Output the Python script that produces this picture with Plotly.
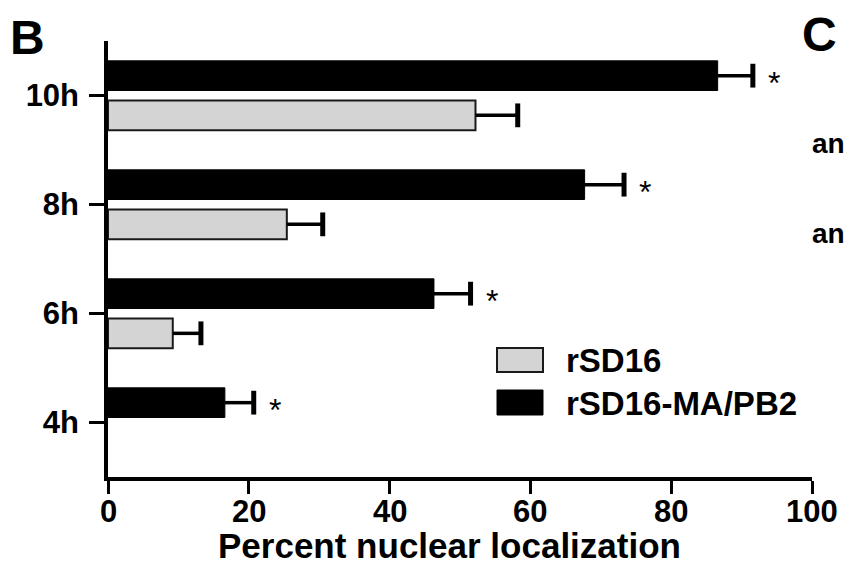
import plotly.graph_objects as go

# Nuclear localization over time for the two viruses
timepoints = ["4h", "6h", "8h", "10h"]
rsd16_mean = [None, 9.2, 25.4, 52.2]
rsd16_err = [None, 4.0, 5.1, 6.0]
mapb2_mean = [16.6, 46.3, 67.7, 86.6]
mapb2_err = [4.1, 5.2, 5.6, 5.0]
significant = ["*", "*", "*", "*"]
x_ticks = [0, 20, 40, 60, 80, 100]

W, H = 846, 565
L, R, T, B = 108, 34, 41, 88
PW, PH = W - L - R, H - T - B


def px(x):
    return (x - L) / PW


def py(y):
    return (H - B - y) / PH


FONT = "Liberation Sans, Arial, sans-serif"
BAR_W = 0.272
OFFSETS = {"rSD16": -0.318, "rSD16-MA/PB2": 0.046}
pos = list(range(len(timepoints)))

fig = go.Figure()
series = [
    ("rSD16", rsd16_mean, rsd16_err, dict(color="#d4d4d4", line=dict(color="#1a1a1a", width=2))),
    ("rSD16-MA/PB2", mapb2_mean, mapb2_err, dict(color="black", line=dict(color="black", width=1))),
]
for name, means, errs, marker in series:
    off = OFFSETS[name]
    fig.add_trace(go.Bar(
        y=pos, x=means, orientation="h", name=name,
        width=BAR_W, offset=off, marker=marker,
        error_x=dict(type="data", array=[e or 0 for e in errs], arrayminus=[0] * 4,
                     symmetric=False, color="black", thickness=3.5, width=0),
        showlegend=False,
    ))
    # heavy end caps of the error bars
    cap_x = [m + e if m is not None else None for m, e in zip(means, errs)]
    fig.add_trace(go.Scatter(
        y=[p + off + BAR_W / 2 for p in pos], x=cap_x, mode="markers",
        marker=dict(symbol="line-ns", size=17, color="black",
                    line=dict(color="black", width=5)),
        showlegend=False, hoverinfo="skip",
    ))

annotations = []
# significance markers beside the error-bar caps
for p, m, e, s in zip(pos, mapb2_mean, mapb2_err, significant):
    annotations.append(dict(
        x=m + e, y=p + OFFSETS["rSD16-MA/PB2"] + BAR_W / 2, xref="x", yref="y",
        text=s, showarrow=False, xanchor="center", yanchor="middle",
        xshift=21, yshift=-7,
        font=dict(family=FONT, size=32, color="black"),
    ))

# x tick labels, set close under the ticks
for v in x_ticks:
    annotations.append(dict(
        x=v, y=py(492), xref="x", yref="paper", text=f"<b>{v}</b>",
        showarrow=False, xanchor="center", yanchor="top",
        font=dict(family=FONT, size=31, color="black"),
    ))

# legend drawn with large swatches
shapes = [
    dict(type="rect", xref="paper", yref="paper",
         x0=px(497), x1=px(543), y0=py(372), y1=py(348),
         fillcolor="#d4d4d4", line=dict(color="#1a1a1a", width=2)),
    dict(type="rect", xref="paper", yref="paper",
         x0=px(497), x1=px(543), y0=py(415), y1=py(390),
         fillcolor="black", line=dict(color="black", width=1)),
]
for label, yc in [("rSD16", 360), ("rSD16-MA/PB2", 403)]:
    annotations.append(dict(
        x=px(564), y=py(yc), xref="paper", yref="paper", text=f"<b>{label}</b>",
        showarrow=False, xanchor="left", yanchor="middle",
        font=dict(family=FONT, size=33, color="black"),
    ))

# axis title
annotations.append(dict(
    x=px(449), y=py(567), xref="paper", yref="paper",
    text="<b>Percent nuclear localization</b>", showarrow=False,
    xanchor="center", yanchor="bottom",
    font=dict(family=FONT, size=35, color="black"),
))

# panel letters and neighbouring panel text
annotations.append(dict(x=px(27), y=py(38), xref="paper", yref="paper", text="<b>B</b>",
                        showarrow=False, xanchor="center", yanchor="middle",
                        font=dict(family=FONT, size=48, color="black")))
annotations.append(dict(x=px(819), y=py(34), xref="paper", yref="paper", text="<b>C</b>",
                        showarrow=False, xanchor="center", yanchor="middle",
                        font=dict(family=FONT, size=48, color="black")))
for yc in [143, 234]:
    annotations.append(dict(x=px(810), y=py(yc), xref="paper", yref="paper", text="<b>an</b>",
                            showarrow=False, xanchor="left", yanchor="middle",
                            font=dict(family=FONT, size=28, color="black")))

fig.update_layout(
    width=W, height=H,
    margin=dict(l=L, r=R, t=T, b=B, pad=0),
    paper_bgcolor="white", plot_bgcolor="white",
    barmode="overlay",
    shapes=shapes, annotations=annotations,
    font=dict(family=FONT, color="black"),
)
fig.update_xaxes(
    range=[0, 100], tickvals=x_ticks, showticklabels=False,
    showgrid=False, zeroline=False, showline=True, linecolor="black", linewidth=3.5,
    ticks="outside", ticklen=13, tickwidth=3, tickcolor="black",
)
fig.update_yaxes(
    range=[-0.5, 3.5], tickvals=pos, ticktext=[f"<b>{t}</b>" for t in timepoints],
    showgrid=False, zeroline=False, showline=True, linecolor="black", linewidth=3.5,
    ticks="outside", ticklen=15, tickwidth=3, tickcolor="black",
    tickfont=dict(family=FONT, size=31, color="black"), ticklabelstandoff=4,
)

fig.write_html("out.html")
